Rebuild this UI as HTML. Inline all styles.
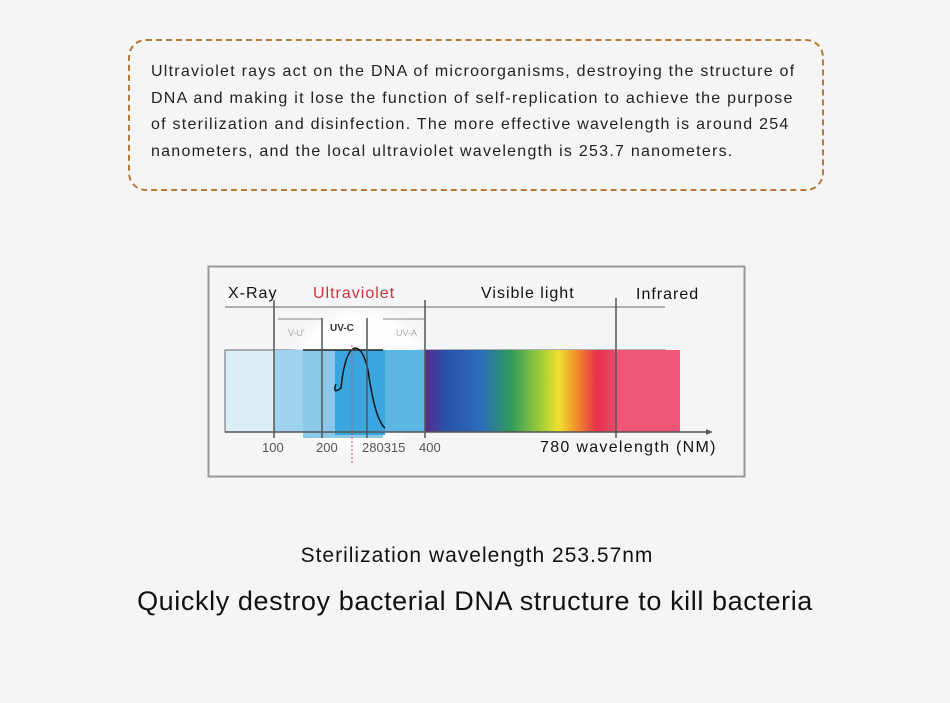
<!DOCTYPE html>
<html><head><meta charset="utf-8"><style>
body{margin:0;width:950px;height:703px;background:#f5f5f5;font-family:"Liberation Sans",sans-serif;position:relative;overflow:hidden}
.box{position:absolute;left:128px;top:39px;width:692px;height:148px;border:2px dashed #b87a36;border-radius:18px}
.t{position:absolute;left:151px;font-size:16px;color:#222;white-space:nowrap;letter-spacing:1.25px}
.c{position:absolute;width:950px;text-align:center;white-space:nowrap;color:#111}
</style></head><body>
<div class="box"></div>
<div class="t" style="top:63px">Ultraviolet rays act on the DNA of microorganisms, destroying the structure of</div>
<div class="t" style="top:90px">DNA and making it lose the function of self-replication to achieve the purpose</div>
<div class="t" style="top:116px">of sterilization and disinfection. The more effective wavelength is around 254</div>
<div class="t" style="top:143px">nanometers, and the local ultraviolet wavelength is 253.7 nanometers.</div>

<svg style="position:absolute;left:0;top:0" width="950" height="703">
<defs>
<linearGradient id="sp" x1="0" x2="1">
<stop offset="0" stop-color="#5a2a8a"/><stop offset="0.1" stop-color="#2a4fa8"/><stop offset="0.3" stop-color="#2b6fb8"/>
<stop offset="0.45" stop-color="#2e9a5a"/><stop offset="0.6" stop-color="#9ccc3a"/><stop offset="0.7" stop-color="#f0e030"/>
<stop offset="0.8" stop-color="#f08a2a"/><stop offset="0.9" stop-color="#e8304a"/><stop offset="1" stop-color="#e84c6a"/>
</linearGradient>
<radialGradient id="gl"><stop offset="0.8" stop-color="#fff" stop-opacity="0.9"/><stop offset="1" stop-color="#fff" stop-opacity="0"/></radialGradient>
</defs>
<rect x="208.5" y="266.5" width="536" height="210" fill="#f3f5f7" stroke="#999" stroke-width="2"/>
<rect x="225" y="350" width="440" height="82" fill="#dceef5" stroke="#666"/>
<circle cx="360" cy="380" r="78" fill="url(#gl)"/>
<rect x="274" y="350" width="151" height="82" fill="#9fd2ec"/>
<rect x="303" y="350" width="80" height="88" fill="#8cc8e8"/>
<rect x="335" y="350" width="50" height="85" fill="#3aa6df"/>
<rect x="385" y="350" width="40" height="82" fill="#5cb6e4"/>
<rect x="425" y="350" width="191" height="82" fill="url(#sp)"/>
<rect x="616" y="350" width="64" height="82" fill="#ef5677"/>
<line x1="303" y1="350" x2="383" y2="350" stroke="#222" stroke-width="1.5"/>
<path d="M336,384 Q332,395 341,388 Q345,350 355,348 Q363,348 368,370 Q375,420 385,428" fill="none" stroke="#111" stroke-width="1.5"/>
<line x1="352" y1="345" x2="352" y2="465" stroke="#d44" stroke-dasharray="2,2"/>
<line x1="225" y1="432" x2="712" y2="432" stroke="#555" stroke-width="1.5"/>
<path d="M712,432 l-6,-3 v6z" fill="#555"/>
<line x1="225" y1="307" x2="665" y2="307" stroke="#666"/>
<line x1="278" y1="319" x2="322" y2="319" stroke="#888"/>
<line x1="383" y1="319" x2="424" y2="319" stroke="#888"/>
<g stroke="#555" stroke-width="1.5">
<line x1="274" y1="300" x2="274" y2="438"/><line x1="322" y1="318" x2="322" y2="438"/>
<line x1="367" y1="318" x2="367" y2="438"/><line x1="425" y1="300" x2="425" y2="438"/>
<line x1="616" y1="298" x2="616" y2="438"/></g>
<g font-size="16" fill="#111" letter-spacing="1">
<text x="228" y="298">X-Ray</text>
<text x="313" y="298" fill="#d0303a">Ultraviolet</text>
<text x="481" y="298">Visible light</text>
<text x="636" y="299">Infrared</text>
<text x="540" y="452" letter-spacing="1.3">780 wavelength (NM)</text>
</g>
<g font-size="13" fill="#555"><text x="262" y="452">100</text><text x="316" y="452">200</text><text x="362" y="452">280315</text><text x="419" y="452">400</text></g>
<g font-size="9" fill="#aaa"><text x="288" y="336">V-U'</text><text x="396" y="336">UV-A</text></g>
<text x="330" y="331" font-size="10" fill="#333" font-weight="bold">UV-C</text>
</svg>
<div class="c" style="top:544px;font-size:21px;letter-spacing:1px;padding-left:2px">Sterilization wavelength 253.57nm</div>
<div class="c" style="top:586px;font-size:27px;letter-spacing:0.6px">Quickly destroy bacterial DNA structure to kill bacteria</div>
</body></html>
